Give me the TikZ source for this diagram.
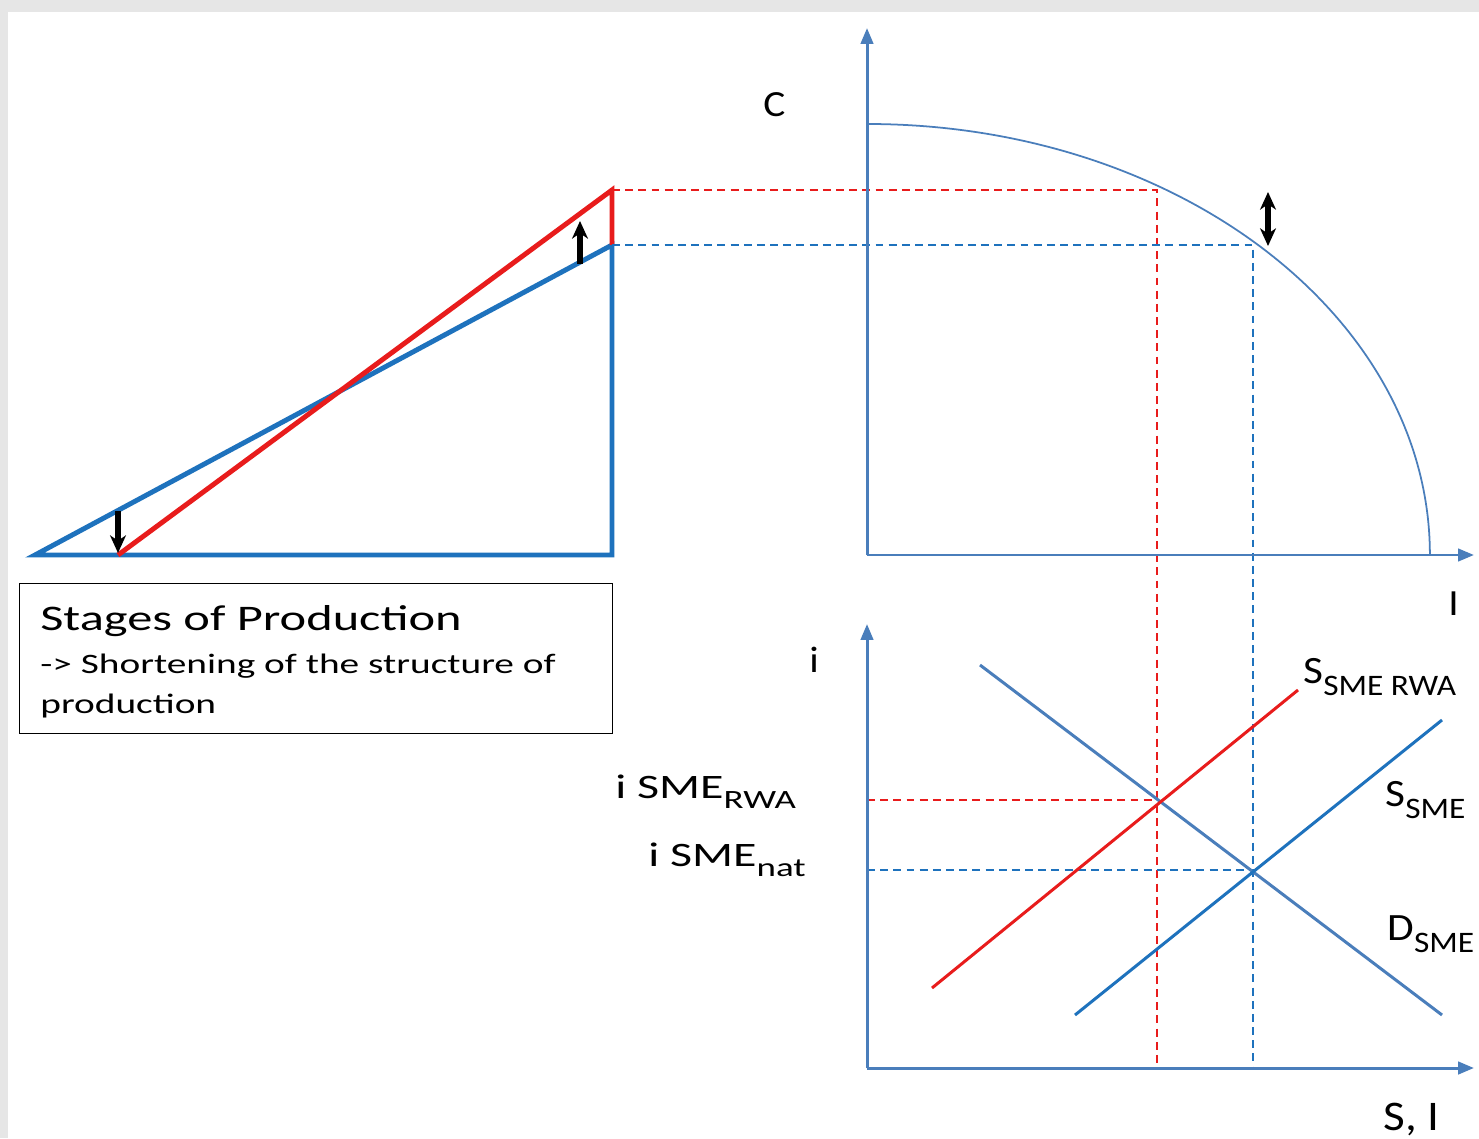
\documentclass[tikz,border=0pt]{standalone}
\usepackage{fontspec}
\setmainfont[FakeStretch=1.4]{Carlito}
\newfontfamily\curvefont[FakeStretch=1.12]{Carlito}
\usetikzlibrary{arrows.meta, positioning, calc}
\definecolor{axisblue}{RGB}{74,126,187}
\definecolor{lineblue}{RGB}{30,114,189}
\definecolor{linered}{RGB}{232,28,28}
\definecolor{framegray}{RGB}{230,230,230}
\newcommand{\subtxt}[1]{\raisebox{-0.32em}{\scalebox{0.77}{#1}}}

\begin{document}
\begin{tikzpicture}[x=0.02cm, y=-0.02cm, >=Stealth,
  axis/.style={draw=axisblue, line width=1.7pt, -{Triangle[length=9pt,width=7pt]}},
  wedge/.style={line width=2.8pt, line join=miter},
  guide/.style={line width=0.8pt, dash pattern=on 4.5pt off 3pt},
  market/.style={line width=1.7pt},
  shiftarrow/.style={line width=3.2pt, -{Stealth[length=10pt,width=9pt,inset=3pt]}},
  lbl/.style={inner sep=0pt, anchor=base west},
  curvelbl/.style={lbl, font=\curvefont\fontsize{22}{26}\selectfont}]
  % frame
  \fill[framegray] (0,0) rectangle (1479,1138);
  \fill[white] (8,12) rectangle (1479,1138);
  \useasboundingbox (0,0) rectangle (1479,1138);

  % stages of production
  \coordinate (base) at (35,555);
  \coordinate (corner) at (612,555);
  \coordinate (bluetop) at (612,245);
  \coordinate (redfoot) at (118,555);
  \coordinate (redtop) at (612,190);
  \draw[wedge, lineblue] (base) -- (corner) -- (bluetop) -- cycle;
  \draw[wedge, linered] (redfoot) -- (redtop) -- (bluetop);
  \coordinate (dropfrom) at (118,511);
  \coordinate (dropto) at (118,553);
  \draw[shiftarrow] (dropfrom) -- (dropto);
  \coordinate (risefrom) at (580,264);
  \coordinate (riseto) at (580,221);
  \draw[shiftarrow] (risefrom) -- (riseto);

  \node[draw, line width=0.8pt, minimum width=11.86cm, minimum height=3cm,
    anchor=north west, inner sep=0pt] (stagebox) at (19,583) {};
  \node[lbl, font=\fontsize{20.5}{24}\selectfont] (stagetitle) at (40,630) {Stages of Production};
  \node[lbl, font=\fontsize{16}{20}\selectfont] (stagenote) at (40,673) {-> Shortening of the structure of};
  \node[lbl, font=\fontsize{16}{20}\selectfont] (stagenote2) at (40,713) {production};

  % guides
  \coordinate (rwaknee) at (1157,190);
  \coordinate (rwafoot) at (1157,1068);
  \coordinate (natknee) at (1253,245);
  \coordinate (natfoot) at (1253,1068);
  \coordinate (rwalevel) at (867,800);
  \coordinate (rwacross) at (1157,800);
  \coordinate (natlevel) at (867,870);
  \coordinate (natcross) at (1253,870);
  \draw[guide, linered] (redtop) -- (rwaknee) -- (rwafoot);
  \draw[guide, lineblue] (bluetop) -- (natknee) -- (natfoot);
  \draw[guide, linered] (rwalevel) -- (rwacross);
  \draw[guide, lineblue] (natlevel) -- (natcross);

  % consumption / investment
  \coordinate (uo) at (867,555);
  \coordinate (utop) at (867,28);
  \coordinate (uright) at (1474,555);
  \draw[axis] (uo) -- (utop);
  \draw[axis] (uo) -- (uright);
  \coordinate (ppfstart) at (867,124);
  \draw[axisblue, line width=1pt] (ppfstart) arc[start angle=90, end angle=0, x radius=11.26cm, y radius=8.62cm];
  \coordinate (swingtop) at (1268,192);
  \coordinate (swingbot) at (1268,246);
  \draw[shiftarrow, {Stealth[length=10pt,width=9pt,inset=3pt]}-{Stealth[length=10pt,width=9pt,inset=3pt]}] (swingtop) -- (swingbot);
  \node[curvelbl, font=\curvefont\fontsize{21}{24}\selectfont] (clabel) at (763,117) {C};
  \node[curvelbl, font=\curvefont\fontsize{21}{24}\selectfont] (ilabel) at (1448,615) {I};

  % loanable funds
  \coordinate (lo) at (867,1068);
  \coordinate (ltop) at (867,624);
  \coordinate (lright) at (1474,1068);
  \draw[axis] (lo) -- (ltop);
  \draw[axis] (lo) -- (lright);
  \coordinate (dstart) at (980,665);
  \coordinate (dend) at (1442,1015);
  \coordinate (rwastart) at (932,988);
  \coordinate (rwaend) at (1298,690);
  \coordinate (smestart) at (1075,1015);
  \coordinate (smeend) at (1442,720);
  \draw[market, axisblue] (dstart) -- (dend);
  \draw[market, linered] (rwastart) -- (rwaend);
  \draw[market, lineblue] (smestart) -- (smeend);

  \node[curvelbl, font=\curvefont\fontsize{21}{24}\selectfont] (rlabel) at (809,672) {i};
  \node[curvelbl, font=\curvefont\fontsize{24}{28}\selectfont] (silabel) at (1383,1130) {S, I};
  \node[curvelbl] (rwalabel) at (1303,683) {S\subtxt{SME RWA}};
  \node[curvelbl] (smelabel) at (1385,806) {S\subtxt{SME}};
  \node[curvelbl] (dlabel) at (1387,940) {D\subtxt{SME}};
  \node[lbl, font=\fontsize{19.5}{23}\selectfont] (rwarate) at (615,798) {i SME\subtxt{RWA}};
  \node[lbl, font=\fontsize{19.5}{23}\selectfont] (natrate) at (648,866) {i SME\subtxt{nat}};
\end{tikzpicture}
\end{document}
